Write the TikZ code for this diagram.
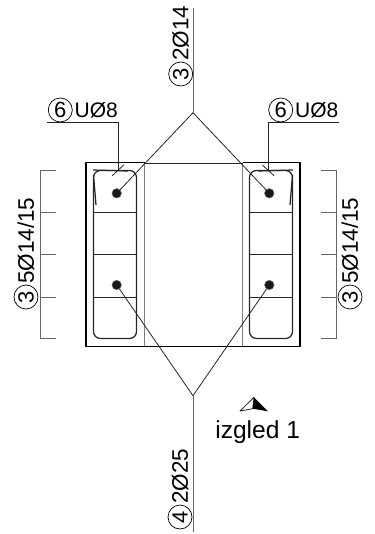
\documentclass[tikz,border=0pt]{standalone}
\usepackage{fontspec}
\setmainfont{Liberation Sans}
\tikzset{
  section/.style={line width=1.2pt, black},
  web/.style={line width=1.2pt, black!50},
  stirrup/.style={line width=1.25pt, black!85},
  leader/.style={line width=0.8pt, black!85},
  dimline/.style={line width=0.9pt, black!60},
  bar/.style={circle, fill=black!90, draw=black!60, line width=0.5pt, minimum size=9.5pt, inner sep=0pt},
  posnum/.style={circle, draw, line width=0.7pt, minimum size=24pt, inner sep=0pt, font=\fontsize{22}{22}\selectfont},
  barlabel/.style={inner sep=0pt, font=\fontsize{21}{21}\selectfont},
  steellabel/.style={barlabel, rotate=90, anchor=west, font=\fontsize{22.5}{22.5}\selectfont},
}
\begin{document}
\begin{tikzpicture}[x=1pt, y=-1pt]
    \useasboundingbox (0,0) rectangle (374,534);

    % Concrete outline and web
    \draw[web] (144.5,163) -- (144.5,346);
    \draw[web] (242.5,163) -- (242.5,346);
    \draw[leader] (144.5,163) -- (242.5,163);
    \draw[section] (144.5,162.5) -- (86,162.5) -- (86,346.5) -- (144.5,346.5);
    \draw[section] (242.5,162.5) -- (300,162.5) -- (300,346.5) -- (242.5,346.5);
    \draw[section] (144.5,346.5) -- (242.5,346.5);

    % Left stirrup with ties
    \draw[stirrup, rounded corners=7pt] (93.5,212) -- (93.5,170.5) -- (136.5,170.5) -- (136.5,338.5) -- (93.5,338.5) -- cycle;
    \draw[stirrup] (93,170) -- (128,171);
    \draw[stirrup] (93.5,175) -- (96,205);
    \draw[stirrup] (93.5,212.5) -- (136.5,212.5);
    \draw[stirrup] (93.5,254.5) -- (136.5,254.5);
    \draw[stirrup] (93.5,297.5) -- (136.5,297.5);

    % Right stirrup with ties
    \draw[stirrup, rounded corners=7pt] (249.5,212) -- (249.5,170.5) -- (292.5,170.5) -- (292.5,338.5) -- (249.5,338.5) -- cycle;
    \draw[stirrup] (258,171) -- (293,170);
    \draw[stirrup] (292.5,175) -- (290,205);
    \draw[stirrup] (249.5,212.5) -- (292.5,212.5);
    \draw[stirrup] (249.5,254.5) -- (292.5,254.5);
    \draw[stirrup] (249.5,297.5) -- (292.5,297.5);

    % Bars
    \node[bar] (BTL) at (116.7,193.3) {};
    \node[bar] (BTR) at (269.3,193.3) {};
    \node[bar] (BBL) at (116.7,285) {};
    \node[bar] (BBR) at (269.3,285) {};

    % Bar leaders
    \coordinate (TA) at (193,112.7);
    \coordinate (TE) at (193,8);
    \coordinate (BA) at (193,395.7);
    \coordinate (BE) at (193,532);
    \draw[leader] (BTL) -- (TA) -- (BTR);
    \draw[leader] (BBL) -- (BA) -- (BBR);
    \draw[dimline] (TE) -- (TA);
    \draw[dimline] (BA) -- (BE);

    % Stirrup leaders
    \draw[leader] (47.3,122.7) -- (118,122.7) -- (118,170);
    \draw[leader] (112.3,175.7) -- (124,164.7);
    \draw[leader] (339.3,122.7) -- (268.3,122.7) -- (268.3,170);
    \draw[leader] (262.3,165) -- (274,175.7);

    % Spacing lines
    \draw[dimline] (56,170) -- (40,170) -- (40,338.7) -- (56,338.7);
    \draw[dimline] (40,212.5) -- (56,212.5);
    \draw[dimline] (40,254.5) -- (56,254.5);
    \draw[dimline] (40,297.5) -- (56,297.5);
    \draw[dimline] (321,170) -- (336.7,170) -- (336.7,338.7) -- (321,338.7);
    \draw[dimline] (321,212.5) -- (336.7,212.5);
    \draw[dimline] (321,254.5) -- (336.7,254.5);
    \draw[dimline] (321,297.5) -- (336.7,297.5);

    % Labels of the stirrups
    \node[posnum] (PL) at (60.3,110) {6};
    \node[barlabel, anchor=west] (UL) at (74.5,110) {UØ8};
    \node[posnum] (PR) at (280.7,110) {6};
    \node[barlabel, anchor=west] (UR) at (295,110) {UØ8};

    % Labels of the bars
    \node[posnum, rotate=90] (PT) at (180.7,74) {3};
    \node[steellabel] (LT) at (180.7,61) {2Ø14};
    \node[posnum, rotate=90] (PB) at (180,517) {4};
    \node[steellabel] (LB) at (180,504) {2Ø25};
    \node[posnum, rotate=90] (PSL) at (26,297) {3};
    \node[steellabel] (LSL) at (26,284) {5Ø14/15};
    \node[posnum, rotate=90] (PSR) at (350,297) {3};
    \node[steellabel] (LSR) at (350,284) {5Ø14/15};

    % View mark
    \draw[leader, line join=round] (254,397.3) -- (240,411) -- (252.7,408.7) -- cycle;
    \fill[black] (254,397.3) -- (268,411.3) -- (252.7,408.7) -- cycle;
    \node[inner sep=0pt, font=\fontsize{24.6}{24.6}\selectfont] (VW) at (257.7,431.7) {izgled 1};

\end{tikzpicture}
\end{document}
